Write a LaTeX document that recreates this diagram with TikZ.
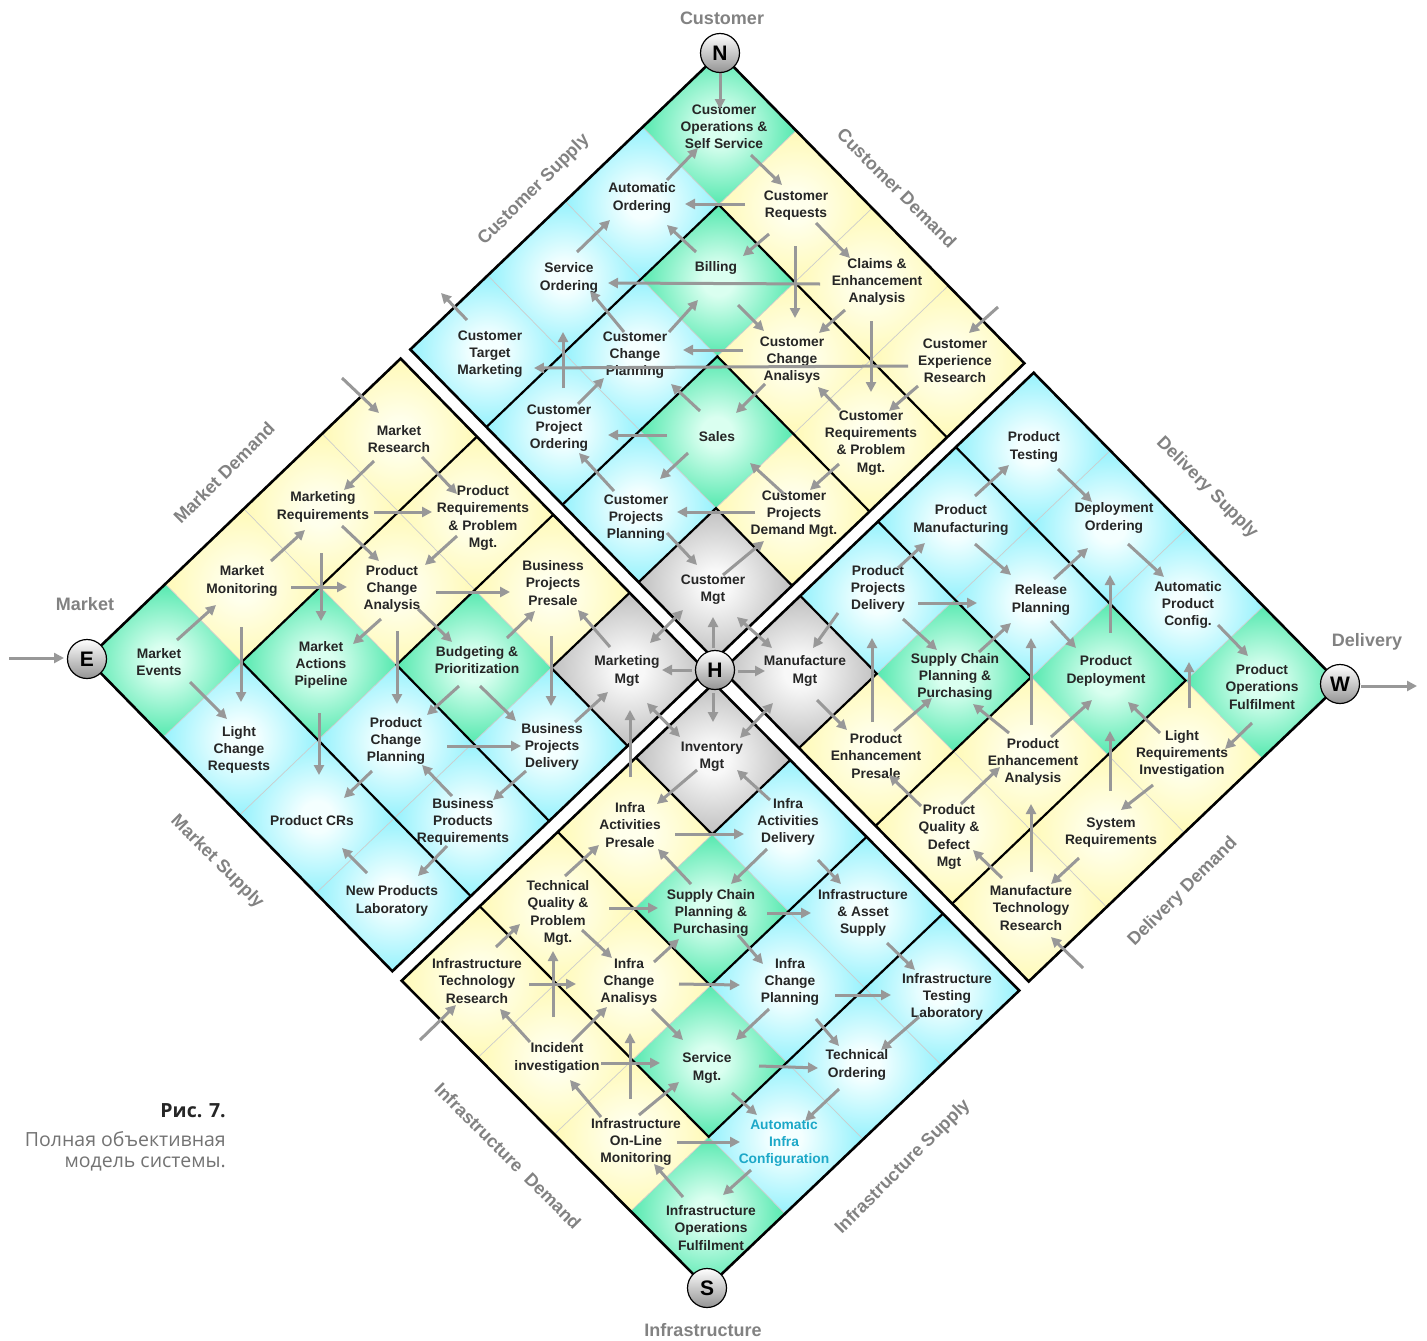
\documentclass[tikz,border=0pt]{standalone}
\usepackage{fontspec}
\setmainfont{Liberation Sans}
\newfontfamily\capfont{Open Sans}
\usetikzlibrary{arrows.meta}
\definecolor{yelE}{RGB}{255,248,168}
\definecolor{yelI}{RGB}{255,255,236}
\definecolor{cyaE}{RGB}{122,238,252}
\definecolor{cyaI}{RGB}{244,255,255}
\definecolor{grnE}{RGB}{46,226,156}
\definecolor{grnI}{RGB}{218,255,240}
\definecolor{gryE}{RGB}{175,175,175}
\definecolor{gryI}{RGB}{248,248,248}
\definecolor{arrc}{RGB}{152,152,152}
\definecolor{txtc}{RGB}{38,38,38}
\definecolor{labc}{RGB}{130,130,130}
\definecolor{aicc}{RGB}{28,168,200}
\definecolor{capc}{RGB}{115,115,115}
\pgfdeclareradialshading{shY}{\pgfpoint{0bp}{0bp}}{color(0bp)=(yelI); color(5bp)=(yelI); color(31bp)=(yelE); color(50bp)=(yelE)}
\pgfdeclareradialshading{shC}{\pgfpoint{0bp}{0bp}}{color(0bp)=(cyaI); color(5bp)=(cyaI); color(31bp)=(cyaE); color(50bp)=(cyaE)}
\pgfdeclareradialshading{shG}{\pgfpoint{0bp}{0bp}}{color(0bp)=(grnI); color(5bp)=(grnI); color(31bp)=(grnE); color(50bp)=(grnE)}
\pgfdeclareradialshading{shK}{\pgfpoint{0bp}{0bp}}{color(0bp)=(gryI); color(5bp)=(gryI); color(31bp)=(gryE); color(50bp)=(gryE)}
\newcommand\quadcells[2]{%
  \foreach \a in {0,1,2,3}{\foreach \b in {0,1,2,3}{%
    \ifnum\a=\b\relax
      \ifnum\a=3\relax\def\cellsh{shK}\else\def\cellsh{shG}\fi
    \else
      \ifnum\a>\b\relax\def\cellsh{#1}\else\def\cellsh{#2}\fi
    \fi
    \shade[shading=\cellsh] (\a,\b) -- ++(1,0) -- ++(0,1) -- ++(-1,0) -- cycle;
  }}%
  \foreach \k in {1,2,3}{\draw[tgrid] (\k,0) -- (\k,4); \draw[tgrid] (0,\k) -- (4,\k);}%
  \foreach \k in {1,2,3}{\draw[lline] (\k,4) -- (\k,\k) -- (4,\k);}%
  \draw[qline] (0,0) -- (4,0) -- (4,4) -- (0,4) -- cycle;
}
\begin{document}
\begin{tikzpicture}[x=1pt,y=-1pt,
  tgrid/.style={draw=black!20,line width=0.7pt},
  lline/.style={draw=black,line width=2.2pt},
  qline/.style={draw=black,line width=2.6pt,line join=miter},
  arr/.style={draw=arrc,line width=3pt,-{Triangle[length=10pt,width=10pt]}},
  darr/.style={draw=arrc,line width=3pt,{Triangle[length=10pt,width=10pt]}-{Triangle[length=10pt,width=10pt]}},
  t/.style={inner sep=0pt,align=center,text=txtc,font=\fontsize{13.8}{17.2}\selectfont\bfseries},
  lab/.style={inner sep=0pt,text=labc,font=\fontsize{18}{18}\selectfont\bfseries},
  captxt/.style={inner sep=0pt,anchor=east,text=capc,font=\capfont\fontsize{19.5}{19.5}\selectfont},
  circ/.style={circle,draw=black,line width=1.2pt,minimum size=39pt,inner sep=0pt,top color=white,bottom color=black!42,font=\fontsize{21}{21}\selectfont\bfseries}]
\useasboundingbox (0,0) rectangle (1427,1341);
\fill[white] (0,0) rectangle (1427,1341);

% ---------- quadrants ----------
\begin{scope}[shift={(720,53)},x={(77.25pt,-78.75pt)},y={(-78.6pt,-75.25pt)},scale=0.985]\quadcells{shY}{shC}\end{scope}
\begin{scope}[shift={(87,659)},x={(77.5pt,-79.25pt)},y={(79.6pt,76.25pt)},scale=0.985]\quadcells{shC}{shY}\end{scope}
\begin{scope}[shift={(1340,684)},x={(-79pt,-75.5pt)},y={(-77.75pt,79pt)},scale=0.985]\quadcells{shY}{shC}\end{scope}
\begin{scope}[shift={(707,1288)},x={(79.25pt,75.5pt)},y={(-77.5pt,78pt)},scale=0.985]\quadcells{shC}{shY}\end{scope}

% ---------- cell texts ----------
% Customer
\node[t] (CO) at (724,127) {Customer\\Operations \&\\Self Service};
\node[t] (AO) at (642,198) {Automatic\\Ordering};
\node[t] (CR) at (796,206) {Customer\\Requests};
\node[t] (BI) at (716,268) {Billing};
\node[t] (SO) at (569,278) {Service\\Ordering};
\node[t] (CEA) at (877,282) {Claims \&\\Enhancement\\Analysis};
\node[t] (CTM) at (490,354) {Customer\\Target\\Marketing};
\node[t] (CCP) at (635,355) {Customer\\Change\\Planning};
\node[t] (CCA) at (792,360) {Customer\\Change\\Analisys};
\node[t] (CER) at (955,361) {Customer\\Experience\\Research};
\node[t] (CPO) at (559,428) {Customer\\Project\\Ordering};
\node[t] (SA) at (717,437) {Sales};
\node[t] (CRP) at (871,443) {Customer\\Requirements\\\& Problem\\Mgt.};
\node[t] (CPP) at (636,518) {Customer\\Projects\\Planning};
\node[t] (CPD) at (794,514) {Customer\\Projects\\Demand Mgt.};
\node[t] (CM) at (713,590) {Customer\\Mgt};
% Market
\node[t] (MR) at (399,439) {Market\\Research};
\node[t] (MRQ) at (323,507) {Marketing\\Requirements};
\node[t] (PRP) at (483,518) {Product\\Requirements\\\& Problem\\Mgt.};
\node[t] (MM) at (242,581) {Market\\Monitoring};
\node[t] (PCA) at (392,589) {Product\\Change\\Analysis};
\node[t] (BPP) at (553,583) {Business\\Projects\\Presale};
\node[t] (ME) at (159,662) {Market\\Events};
\node[t] (MAP) at (321,665) {Market\\Actions\\Pipeline};
\node[t] (BP) at (477,660) {Budgeting \&\\Prioritization};
\node[t] (MKM) at (627,671) {Marketing\\Mgt};
\node[t] (LCR) at (239,750) {Light\\Change\\Requests};
\node[t] (PCP) at (396,741) {Product\\Change\\Planning};
\node[t] (BPD) at (552,747) {Business\\Projects\\Delivery};
\node[t] (PCR) at (312,821) {Product CRs};
\node[t] (BPR) at (463,822) {Business\\Products\\Requirements};
\node[t] (NPL) at (392,901) {New Products\\Laboratory};
% Delivery
\node[t] (PT) at (1034,447) {Product\\Testing};
\node[t] (PM) at (961,520) {Product\\Manufacturing};
\node[t] (DO) at (1114,518) {Deployment\\Ordering};
\node[t] (PPD) at (878,589) {Product\\Projects\\Delivery};
\node[t] (RP) at (1041,600) {Release\\Planning};
\node[t] (APC) at (1188,605) {Automatic\\Product\\Config.};
\node[t] (MFM) at (805,671) {Manufacture\\Mgt};
\node[t] (SC) at (955,677) {Supply Chain\\Planning \&\\Purchasing};
\node[t] (PD) at (1106,671) {Product\\Deployment};
\node[t] (POF) at (1262,687) {Product\\Operations\\Fulfilment};
\node[t] (PEP) at (876,756) {Product\\Enhancement\\Presale};
\node[t] (PEA) at (1033,762) {Product\\Enhancement\\Analysis};
\node[t] (LRI) at (1182,754) {Light\\Requirements\\Investigation};
\node[t] (PQ) at (949,837) {Product\\Quality \&\\Defect\\Mgt};
\node[t] (SR) at (1111,833) {System\\Requirements};
\node[t] (MTR) at (1031,908) {Manufacture\\Technology\\Research};
% Infrastructure
\node[t] (IM) at (712,757) {Inventory\\Mgt};
\node[t] (IAP) at (630,825) {Infra\\Activities\\Presale};
\node[t] (IAD) at (788,822) {Infra\\Activities\\Delivery};
\node[t] (TQ) at (558,913) {Technical\\Quality \&\\Problem\\Mgt.};
\node[t] (SC2) at (711,913) {Supply Chain\\Planning \&\\Purchasing};
\node[t] (IAS) at (863,913) {Infrastructure\\\& Asset\\Supply};
\node[t] (ITR) at (477,981) {Infrastructure\\Technology\\Research};
\node[t] (ICA) at (629,982) {Infra\\Change\\Analisys};
\node[t] (ICP) at (790,982) {Infra\\Change\\Planning};
\node[t] (ITL) at (947,997) {Infrastructure\\Testing\\Laboratory};
\node[t] (II) at (557,1058) {Incident\\investigation};
\node[t] (SM) at (707,1068) {Service\\Mgt.};
\node[t] (TO) at (857,1065) {Technical\\Ordering};
\node[t] (IOM) at (636,1142) {Infrastructure\\On-Line\\Monitoring};
\node[t,text=aicc] (AIC) at (784,1143) {Automatic\\Infra\\Configuration};
\node[t] (IOF) at (711,1228) {Infrastructure\\Operations\\Fulfilment};

% ---------- arrows: Customer ----------
\draw[arr] (720,73) -- (720,109);
\draw[arr] (667,180) -- (698,148);
\draw[arr] (751,155) -- (782,185);
\draw[arr] (745,204) -- (685,204);
\draw[arr] (577,252) -- (610,220);
\draw[arr] (696,252) -- (667,225);
\draw[arr] (769,234) -- (743,256);
\draw[arr] (816,223) -- (850,258);
\draw[arr] (795,246) -- (795,318);
\draw[arr] (820,284) -- (608,283);
\draw[arr] (845,310) -- (819,333);
\draw[arr] (738,305) -- (764,331);
\draw[arr] (669,332) -- (698,300);
\draw[arr] (624,332) -- (590,291);
\draw[arr] (743,350) -- (683,350);
\draw[arr] (908,366) -- (534,368);
\draw[arr] (563,388) -- (563,332);
\draw[arr] (871,321) -- (871,392);
\draw[arr] (998,307) -- (969,333);
\draw[arr] (467,320) -- (441,293);
\draw[arr] (578,404) -- (604,378);
\draw[arr] (700,411) -- (671,384);
\draw[arr] (765,384) -- (736,413);
\draw[arr] (840,410) -- (818,387);
\draw[arr] (918,386) -- (889,411);
\draw[arr] (667,435) -- (608,435);
\draw[arr] (688,453) -- (660,479);
\draw[arr] (614,491) -- (579,453);
\draw[arr] (784,494) -- (750,463);
\draw[arr] (839,464) -- (810,490);
\draw[arr] (755,512) -- (677,512);
\draw[arr] (667,533) -- (697,565);
\draw[arr] (723,575) -- (764,541);
% ---------- arrows: hub ----------
\draw[arr] (713,648) -- (713,617);
\draw[arr] (692,670) -- (662,670);
\draw[arr] (738,671) -- (765,671);
\draw[arr] (713,693) -- (713,722);
\draw[darr] (650,643) -- (683,610);
\draw[darr] (737,617) -- (772,648);
\draw[darr] (647,703) -- (680,737);
\draw[darr] (740,738) -- (773,703);
\draw[arr] (610,647) -- (578,610);
\draw[arr] (575,722) -- (608,692);
\draw[arr] (630,777) -- (630,710);
\draw[arr] (697,770) -- (657,804);
\draw[arr] (770,800) -- (737,770);
\draw[arr] (838,613) -- (813,648);
\draw[arr] (817,700) -- (847,730);
\draw[arr] (872,722) -- (872,638);
\draw[arr] (551,636) -- (551,706);
% ---------- arrows: Market ----------
\draw[arr] (9,658) -- (64,658);
\draw[arr] (177,640) -- (216,605);
\draw[arr] (190,682) -- (227,719);
\draw[arr] (241,627) -- (241,702);
\draw[arr] (271,561) -- (305,530);
\draw[arr] (291,587) -- (347,587);
\draw[arr] (321,553) -- (321,621);
\draw[arr] (374,461) -- (344,490);
\draw[arr] (342,378) -- (379,413);
\draw[arr] (422,457) -- (457,494);
\draw[arr] (374,512) -- (432,512);
\draw[arr] (342,526) -- (379,561);
\draw[arr] (457,536) -- (425,565);
\draw[arr] (436,592) -- (510,592);
\draw[arr] (381,619) -- (353,644);
\draw[arr] (418,609) -- (452,642);
\draw[arr] (397,631) -- (397,704);
\draw[arr] (507,638) -- (535,611);
\draw[arr] (459,686) -- (427,715);
\draw[arr] (480,686) -- (516,721);
\draw[arr] (447,746) -- (521,746);
\draw[arr] (319,713) -- (319,775);
\draw[arr] (372,771) -- (344,798);
\draw[arr] (452,796) -- (422,765);
\draw[arr] (526,771) -- (493,800);
\draw[arr] (367,873) -- (342,848);
\draw[arr] (447,846) -- (418,876);
% ---------- arrows: Delivery ----------
\draw[arr] (975,496) -- (1009,465);
\draw[arr] (1058,469) -- (1092,502);
\draw[arr] (898,568) -- (925,543);
\draw[arr] (975,544) -- (1011,575);
\draw[arr] (1054,579) -- (1088,548);
\draw[arr] (1128,544) -- (1164,577);
\draw[arr] (918,603) -- (977,603);
\draw[arr] (903,619) -- (937,650);
\draw[arr] (1051,621) -- (1076,648);
\draw[arr] (979,652) -- (1011,623);
\draw[arr] (1110,633) -- (1110,575);
\draw[arr] (1218,625) -- (1248,656);
\draw[arr] (1189,708) -- (1189,662);
\draw[arr] (1252,723) -- (1225,749);
\draw[arr] (1361,686) -- (1417,686);
\draw[arr] (1031,725) -- (1031,638);
\draw[arr] (1051,737) -- (1092,700);
\draw[arr] (1160,733) -- (1128,702);
\draw[arr] (1009,733) -- (973,704);
\draw[arr] (894,731) -- (932,698);
\draw[arr] (921,806) -- (889,775);
\draw[arr] (961,804) -- (1000,767);
\draw[arr] (1031,872) -- (1031,804);
\draw[arr] (1110,791) -- (1110,731);
\draw[arr] (1153,785) -- (1121,810);
\draw[arr] (1079,858) -- (1051,884);
\draw[arr] (1002,878) -- (973,850);
\draw[arr] (1083,968) -- (1051,937);
% ---------- arrows: Infrastructure ----------
\draw[arr] (675,834) -- (744,834);
\draw[arr] (565,876) -- (599,845);
\draw[arr] (691,884) -- (658,849);
\draw[arr] (767,849) -- (731,884);
\draw[arr] (818,860) -- (841,884);
\draw[arr] (609,908) -- (658,908);
\draw[arr] (767,913) -- (811,913);
\draw[arr] (496,947) -- (520,924);
\draw[arr] (582,930) -- (612,958);
\draw[arr] (654,962) -- (679,939);
\draw[arr] (738,935) -- (763,964);
\draw[arr] (887,943) -- (915,970);
\draw[arr] (553,1017) -- (553,951);
\draw[arr] (529,984) -- (576,984);
\draw[arr] (679,984) -- (740,985);
\draw[arr] (835,995) -- (891,995);
\draw[arr] (420,1040) -- (456,1005);
\draw[arr] (530,1042) -- (500,1009);
\draw[arr] (572,1042) -- (607,1007);
\draw[arr] (652,1009) -- (683,1040);
\draw[arr] (769,1009) -- (736,1040);
\draw[arr] (816,1019) -- (839,1046);
\draw[arr] (919,1017) -- (881,1050);
\draw[arr] (601,1063) -- (660,1063);
\draw[arr] (630,1099) -- (630,1033);
\draw[arr] (759,1066) -- (818,1068);
\draw[arr] (601,1117) -- (570,1080);
\draw[arr] (639,1115) -- (679,1082);
\draw[arr] (732,1093) -- (757,1115);
\draw[arr] (839,1089) -- (805,1121);
\draw[arr] (677,1142) -- (740,1142);
\draw[arr] (683,1197) -- (654,1164);
\draw[arr] (751,1170) -- (723,1195);

% ---------- circles ----------
\node[circ] (N) at (720,53) {N};
\node[circ] (E) at (87,659) {E};
\node[circ] (W) at (1340,684) {W};
\node[circ] (S) at (707,1288) {S};
\node[circ] (H) at (715,670) {H};

% ---------- labels ----------
\node[lab] (lC) at (722,18) {Customer};
\node[lab] (lM) at (85,604) {Market};
\node[lab] (lD) at (1367,642) {Delivery};
\node[lab] (lI) at (703,1330) {Infrastructure};
\node[lab,rotate=45] (lCS) at (534,190) {Customer Supply};
\node[lab,rotate=-45] (lCD) at (897,188) {Customer Demand};
\node[lab,rotate=45] (lMD) at (224,473) {Market Demand};
\node[lab,rotate=-45] (lMS) at (217,862) {Market Supply};
\node[lab,rotate=-45] (lDS) at (1207,488) {Delivery Supply};
\node[lab,rotate=45] (lDD) at (1183,892) {Delivery Demand};
\node[lab,rotate=-45] (lID) at (508,1156) {Infrastructure\ \ Demand};
\node[lab,rotate=45] (lIS) at (903,1167) {Infrastructure Supply};

% ---------- caption ----------
\node[captxt,text=black!85,font=\capfont\bfseries\fontsize{19.5}{19.5}\selectfont] (cap1) at (226,1111) {Рис. 7.};
\node[captxt] (cap2) at (226,1139) {Полная объективная};
\node[captxt] (cap3) at (226,1164) {модель системы.};
\end{tikzpicture}
\end{document}
